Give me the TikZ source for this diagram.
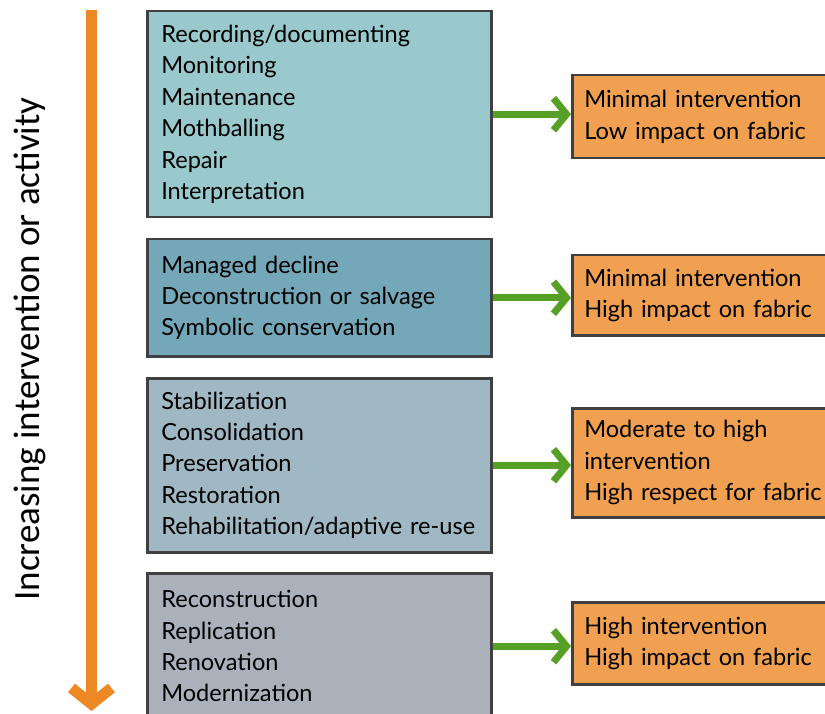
\documentclass[tikz,border=0pt]{standalone}
\usepackage{fontspec}
\setmainfont{Lato}
\newfontfamily\labelfont{Carlito}
\usetikzlibrary{arrows.meta}

\definecolor{borderGray}{RGB}{64,64,64}
\definecolor{tealLight}{RGB}{153,201,204}
\definecolor{tealDark}{RGB}{116,168,184}
\definecolor{blueGray}{RGB}{160,184,195}
\definecolor{slateGray}{RGB}{170,177,186}
\definecolor{boxOrange}{RGB}{240,160,80}
\definecolor{arrowOrange}{RGB}{237,137,36}
\definecolor{arrowGreen}{RGB}{86,160,40}

\begin{document}
\begin{tikzpicture}[x=1pt, y=-1pt,
            box/.style={rectangle, draw=borderGray, line width=2.5pt, anchor=north west,
            align=left, inner ysep=0pt, font=\fontsize{23.6}{31.4}\selectfont},
            activity/.style={box, text width=316pt, inner xsep=14pt},
            activity1/.style={activity, fill=tealLight},
            activity2/.style={activity, fill=tealDark},
            activity3/.style={activity, fill=blueGray},
            activity4/.style={activity, fill=slateGray},
            impact/.style={box, fill=boxOrange, text width=270pt, inner xsep=12pt},
            link/.style={arrowGreen, line width=7pt, -{Straight Barb[length=13pt,width=32pt]}}
        ]
            \useasboundingbox (0,0) rectangle (825,714);
            \clip (0,0) rectangle (825,714);

            \coordinate (scaleTop) at (91.5,10);
            \coordinate (scaleEnd) at (91.5,711);
            \draw [arrowOrange, line width=11pt, -{Straight Barb[length=16pt,width=40pt]}] (scaleTop) -- (scaleEnd);
            \node (scaleLabel) [rotate=90, font=\labelfont\fontsize{37}{40}\selectfont] at (30,349) {Increasing intervention or activity};

            \node (recording) [activity1, minimum height=206pt] at (146,10) {Recording/documenting\\Monitoring\\Maintenance\\Mothballing\\Repair\\Interpretation};
            \node (decline) [activity2, minimum height=117pt] at (146,238) {Managed decline\\Deconstruction or salvage\\Symbolic conservation};
            \node (stabilization) [activity3, minimum height=174pt] at (146,377) {Stabilization\\Consolidation\\Preservation\\Restoration\\Rehabilitation/adaptive re-use};
            \node (reconstruction) [activity4, minimum height=146pt] at (146,572) {Reconstruction\\Replication\\Renovation\\Modernization};

            \node (lowImpact) [impact, minimum height=83pt] at (571,74) {Minimal intervention\\Low impact on fabric};
            \node (highImpact) [impact, minimum height=80pt] at (571,254) {Minimal intervention\\High impact on fabric};
            \node (highRespect) [impact, minimum height=109pt] at (571,407) {Moderate to high\\intervention\\High respect for fabric};
            \node (highBoth) [impact, minimum height=82pt] at (571,601) {High intervention\\High impact on fabric};

            \draw [link] (recording.east) -- (recording.east -| lowImpact.west);
            \draw [link] (decline.east) -- (decline.east -| highImpact.west);
            \draw [link] (stabilization.east) -- (stabilization.east -| highRespect.west);
            \draw [link] (reconstruction.east) -- (reconstruction.east -| highBoth.west);
        \end{tikzpicture}
\end{document}
